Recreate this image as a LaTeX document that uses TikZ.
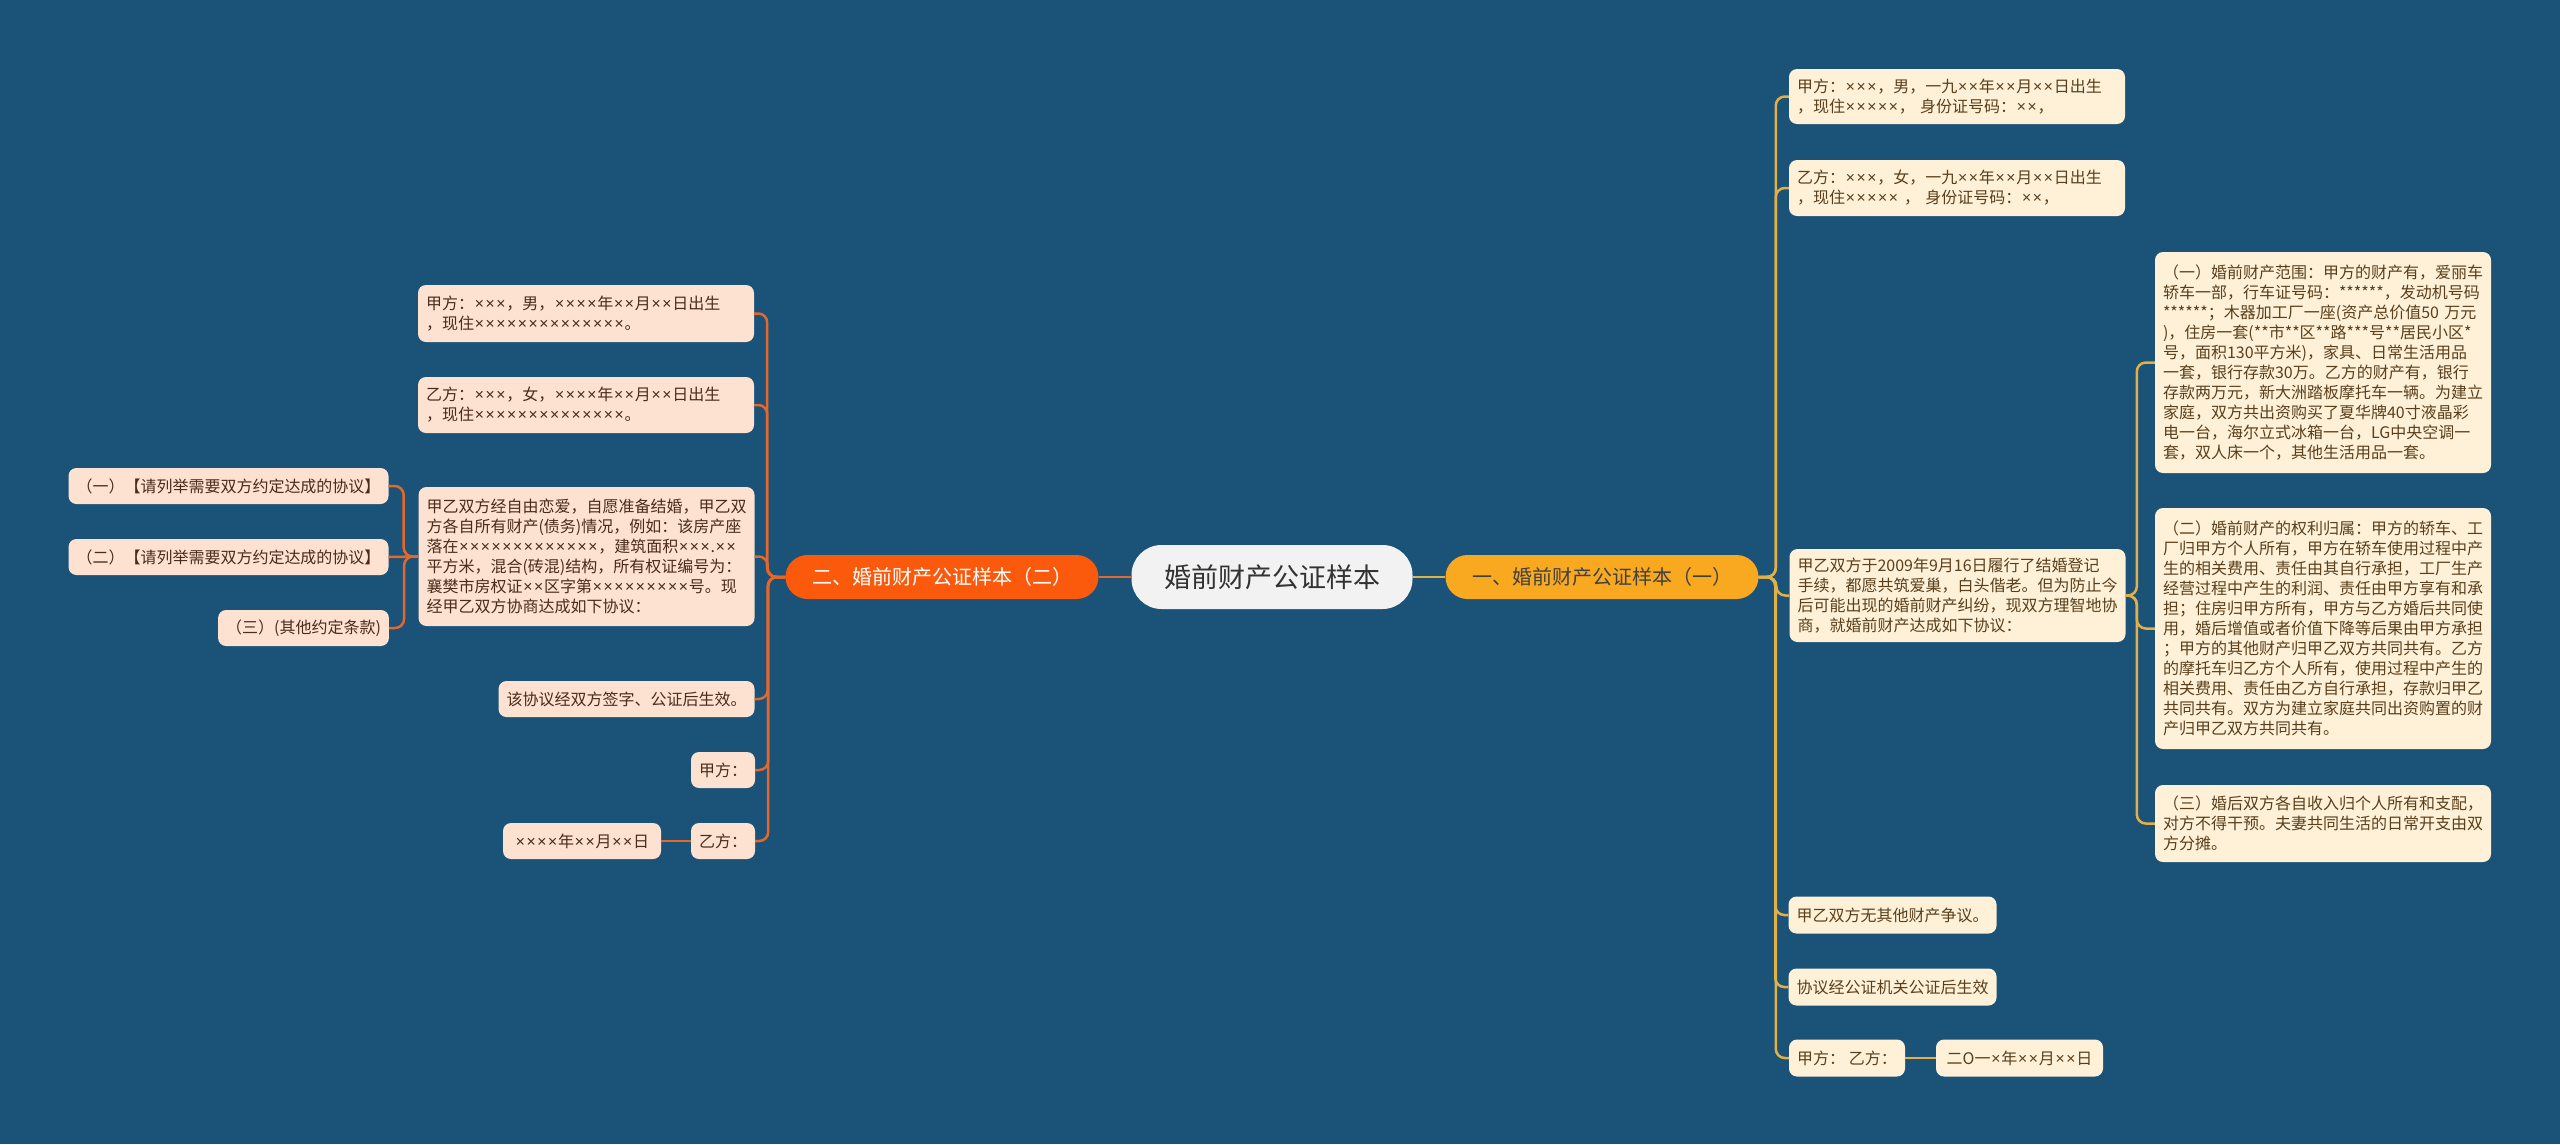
\documentclass[tikz,border=0pt]{standalone}
\usepackage{fontspec}
\setmainfont{Noto Sans CJK SC}
\newfontfamily\latinx{Noto Sans}
\newcommand{\mx}{{\latinx\kern0.05em×\kern0.05em}}
\usepackage{tikz}
\usepackage{xcolor}
\usetikzlibrary{positioning}

\definecolor{bgblue}{HTML}{1B5277}
\definecolor{rootfill}{HTML}{F2F2F2}
\definecolor{goldbranch}{HTML}{F9A920}
\definecolor{redbranch}{HTML}{FB5A0C}
\definecolor{creamleaf}{HTML}{FEF1D8}
\definecolor{peachleaf}{HTML}{FEE2D1}
\definecolor{goldline}{HTML}{E2B047}
\definecolor{redline}{HTML}{E5672C}
\definecolor{browntext}{HTML}{5A3F1C}
\definecolor{darktext}{HTML}{4A2B1C}

\begin{document}
\begin{tikzpicture}[x=1pt, y=-1pt,
		root/.style={rounded corners=30pt, fill=rootfill, text=black!80, minimum width=281pt, minimum height=64pt, font=\fontsize{27pt}{32pt}\selectfont},
		goldbr/.style={rounded corners=22pt, fill=goldbranch, text=black!75, minimum width=313pt, minimum height=44pt, font=\fontsize{20pt}{24pt}\selectfont},
		redbr/.style={goldbr, fill=redbranch, text=white},
		rleaf/.style={rounded corners=8pt, fill=creamleaf, text=browntext, inner xsep=8pt, inner ysep=5pt, minimum height=37pt, font=\fontsize{16pt}{20pt}\selectfont},
		lleaf/.style={rleaf, fill=peachleaf, text=darktext},
		para/.style={text width=320pt, align=left},
		goldlink/.style={draw=goldline, line width=2.5pt, rounded corners=9pt},
		redlink/.style={draw=redline, line width=2.5pt, rounded corners=9pt}]
				\fill[bgblue] (0,0) rectangle (2560,1144);
				\node[root] (root) at (1272, 577) {婚前财产公证样本};
				\node[goldbr] (rb) at (1602, 577) {一、婚前财产公证样本（一）};
				\node[redbr] (lb) at (942, 577) {二、婚前财产公证样本（二）};
				\node[rleaf, para, minimum height=55pt] (r1) at (1957, 96.5) {甲方：\mx\mx\mx{}，男，一九\mx\mx{}年\mx\mx{}月\mx\mx{}日出生\\，现住\mx\mx\mx\mx\mx{}， 身份证号码：\mx\mx{}，};
				\node[rleaf, para, minimum height=56pt] (r2) at (1957, 188) {乙方：\mx\mx\mx{}，女，一九\mx\mx{}年\mx\mx{}月\mx\mx{}日出生\\，现住\mx\mx\mx\mx\mx{} ， 身份证号码：\mx\mx{}，};
				\node[rleaf, para, minimum height=93pt] (r3) at (1957.5, 595.5) {甲乙双方于2009年9月16日履行了结婚登记\\手续，都愿共筑爱巢，白头偕老。但为防止今\\后可能出现的婚前财产纠纷，现双方理智地协\\商，就婚前财产达成如下协议：};
				\node[rleaf, minimum width=207pt] (r4) at (1892.5, 915) {甲乙双方无其他财产争议。};
				\node[rleaf, minimum width=207pt] (r5) at (1892.5, 987) {协议经公证机关公证后生效};
				\node[rleaf, minimum width=116pt] (r6) at (1847, 1058) {甲方：~乙方：};
				\node[rleaf, minimum width=167pt] (r6a) at (2019.5, 1058) {二O一\mx{}年\mx\mx{}月\mx\mx{}日};
				\node[rleaf, para, minimum height=221pt] (s1) at (2323, 362.5) {（一）婚前财产范围：甲方的财产有，爱丽车\\轿车一部，行车证号码：******，发动机号码\\*******；木器加工厂一座(资产总价值50 万元\\)，住房一套(**市**区**路***号**居民小区*\\号，面积130平方米)，家具、日常生活用品\\一套，银行存款30万。乙方的财产有，银行\\存款两万元，新大洲踏板摩托车一辆。为建立\\家庭，双方共出资购买了夏华牌40寸液晶彩\\电一台，海尔立式冰箱一台，LG中央空调一\\套，双人床一个，其他生活用品一套。};
				\node[rleaf, para, minimum height=241pt] (s2) at (2323, 628.5) {（二）婚前财产的权利归属：甲方的轿车、工\\厂归甲方个人所有，甲方在轿车使用过程中产\\生的相关费用、责任由其自行承担，工厂生产\\经营过程中产生的利润、责任由甲方享有和承\\担；住房归甲方所有，甲方与乙方婚后共同使\\用，婚后增值或者价值下降等后果由甲方承担\\；甲方的其他财产归甲乙双方共同共有。乙方\\的摩托车归乙方个人所有，使用过程中产生的\\相关费用、责任由乙方自行承担，存款归甲乙\\共同共有。双方为建立家庭共同出资购置的财\\产归甲乙双方共同共有。};
				\node[rleaf, para, minimum height=77pt] (s3) at (2323, 823.5) {（三）婚后双方各自收入归个人所有和支配，\\对方不得干预。夫妻共同生活的日常开支由双\\方分摊。};
				\node[lleaf, para, minimum height=57pt] (l1) at (586, 313.5) {甲方：\mx\mx\mx{}，男，\mx\mx\mx\mx{}年\mx\mx{}月\mx\mx{}日出生\\，现住\mx\mx\mx\mx\mx\mx\mx\mx\mx\mx\mx\mx\mx\mx{}。};
				\node[lleaf, para, minimum height=56pt] (l2) at (586, 405) {乙方：\mx\mx\mx{}，女，\mx\mx\mx\mx{}年\mx\mx{}月\mx\mx{}日出生\\，现住\mx\mx\mx\mx\mx\mx\mx\mx\mx\mx\mx\mx\mx\mx{}。};
				\node[lleaf, para, minimum height=139pt] (l3) at (586.5, 556.5) {甲乙双方经自由恋爱，自愿准备结婚，甲乙双\\方各自所有财产(债务)情况，例如：该房产座\\落在\mx\mx\mx\mx\mx\mx\mx\mx\mx\mx\mx\mx\mx{}，建筑面积\mx\mx\mx{}.\mx\mx\\平方米，混合(砖混)结构，所有权证编号为：\\襄樊市房权证\mx\mx{}区字第\mx\mx\mx\mx\mx\mx\mx\mx\mx{}号。现\\经甲乙双方协商达成如下协议：};
				\node[lleaf, minimum width=255pt, minimum height=36pt] (l4) at (626.5, 699) {该协议经双方签字、公证后生效。};
				\node[lleaf, minimum width=64pt, minimum height=36pt] (l5) at (723, 770) {甲方：};
				\node[lleaf, minimum width=64pt, minimum height=36pt] (l6) at (723, 841) {乙方：};
				\node[lleaf, minimum width=158pt, minimum height=36pt] (l6a) at (582, 841) {\mx\mx\mx\mx{}年\mx\mx{}月\mx\mx{}日};
				\node[lleaf, minimum width=319pt, minimum height=36pt] (ll1) at (228.5, 486) {（一）【请列举需要双方约定达成的协议】};
				\node[lleaf, minimum width=319pt, minimum height=36pt] (ll2) at (228.5, 557) {（二）【请列举需要双方约定达成的协议】};
				\node[lleaf, minimum width=169pt, minimum height=36pt] (ll3) at (303.5, 628) {（三）(其他约定条款)};
				\draw[goldlink] (root.east) to (rb.west);
				\draw[redlink] (root.west) to (lb.east);
				\draw[goldlink] (rb.east) -| ([xshift=-13pt]r1.west) -- (r1.west);
				\draw[goldlink] (rb.east) -| ([xshift=-13pt]r2.west) -- (r2.west);
				\draw[goldlink] (rb.east) -| ([xshift=-13pt]r3.west) -- (r3.west);
				\draw[goldlink] (rb.east) -| ([xshift=-13pt]r4.west) -- (r4.west);
				\draw[goldlink] (rb.east) -| ([xshift=-13pt]r5.west) -- (r5.west);
				\draw[goldlink] (rb.east) -| ([xshift=-13pt]r6.west) -- (r6.west);
				\draw[goldlink] (r6.east) to (r6a.west);
				\draw[goldlink] (r3.east) -| ([xshift=-18pt]s1.west) -- (s1.west);
				\draw[goldlink] (r3.east) -| ([xshift=-18pt]s2.west) -- (s2.west);
				\draw[goldlink] (r3.east) -| ([xshift=-18pt]s3.west) -- (s3.west);
				\draw[redlink] (lb.west) -| ([xshift=13pt]l1.east) -- (l1.east);
				\draw[redlink] (lb.west) -| ([xshift=13pt]l2.east) -- (l2.east);
				\draw[redlink] (lb.west) -| ([xshift=13pt]l3.east) -- (l3.east);
				\draw[redlink] (lb.west) -| ([xshift=13pt]l4.east) -- (l4.east);
				\draw[redlink] (lb.west) -| ([xshift=13pt]l5.east) -- (l5.east);
				\draw[redlink] (lb.west) -| ([xshift=13pt]l6.east) -- (l6.east);
				\draw[redlink] (l6.west) to (l6a.east);
				\draw[redlink] (l3.west) -| ([xshift=15pt]ll1.east) -- (ll1.east);
				\draw[redlink] (l3.west) to (ll2.east);
				\draw[redlink] (l3.west) -| ([xshift=15pt]ll3.east) -- (ll3.east);
			\end{tikzpicture}
\end{document}
